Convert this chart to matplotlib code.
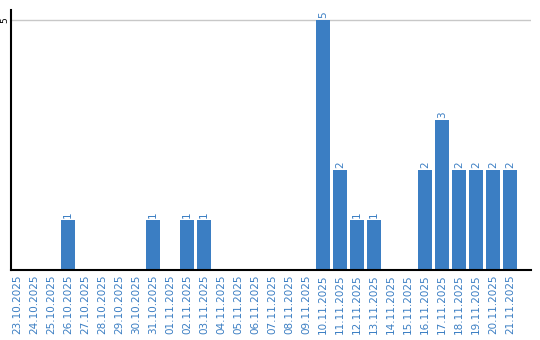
import matplotlib
matplotlib.use('Agg')
import matplotlib.pyplot as plt
import numpy as np

dates = ['23.10.2025', '24.10.2025', '25.10.2025', '26.10.2025', '27.10.2025',
         '28.10.2025', '29.10.2025', '30.10.2025', '31.10.2025', '01.11.2025',
         '02.11.2025', '03.11.2025', '04.11.2025', '05.11.2025', '06.11.2025',
         '07.11.2025', '08.11.2025', '09.11.2025', '10.11.2025', '11.11.2025',
         '12.11.2025', '13.11.2025', '14.11.2025', '15.11.2025', '16.11.2025',
         '17.11.2025', '18.11.2025', '19.11.2025', '20.11.2025', '21.11.2025']
counts = [0, 0, 0, 1, 0, 0, 0, 0, 1, 0,
          1, 1, 0, 0, 0, 0, 0, 0, 5, 2,
          1, 1, 0, 0, 2, 3, 2, 2, 2, 2]

blue = '#3b7ec3'

fig = plt.figure(figsize=(5.4, 3.4), dpi=100)
ax = fig.add_axes([11 / 540, 70 / 340, 520 / 540, 260 / 340])

x = np.arange(len(dates))
ax.bar(x, counts, width=0.82, color=blue, zorder=2)

# Beschriftung über den Balken
for xi, v in zip(x, counts):
    if v > 0:
        ax.text(xi, v + 0.04, str(v), rotation=90, ha='center', va='bottom',
                fontsize=7.5, color=blue)

ax.set_xlim(-0.35, 30.24)
ax.set_ylim(0, 5.2)
ax.set_xticks(x)
ax.set_xticklabels(dates, rotation=90, fontsize=7.5, color=blue)
ax.set_yticks([5])
ax.set_yticklabels(['5'], rotation=90, fontsize=6.5, va='center')
ax.tick_params(axis='x', length=0, pad=3)
ax.tick_params(axis='y', length=0, pad=1)
ax.axhline(5, color='#c8c8c8', linewidth=1, zorder=1)

for side in ['top', 'right']:
    ax.spines[side].set_visible(False)
ax.spines['left'].set_linewidth(1.5)
ax.spines['bottom'].set_linewidth(1.5)

fig.savefig('out.png', dpi=100)
